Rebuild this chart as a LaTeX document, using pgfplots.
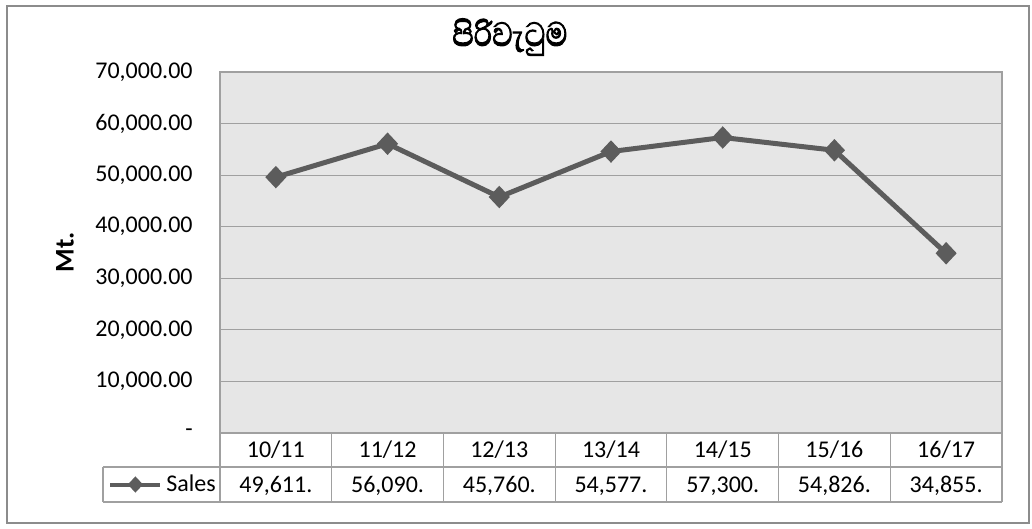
\documentclass[border=0pt]{standalone}
\usepackage{fontspec}
\setmainfont{Carlito}
\newfontfamily\sinhala[Script=Sinhala, FakeBold=2.5]{Abhaya Libre}
\usepackage{pgfplots}
\pgfplotsset{compat=1.18}
\definecolor{linec}{HTML}{5C5C5C}
\definecolor{plotbg}{HTML}{E6E6E6}
\definecolor{gridc}{HTML}{A0A0A0}
\definecolor{framec}{HTML}{8C8C8C}

\begin{document}
\begin{tikzpicture}
\useasboundingbox (-110pt,-48pt) rectangle (406pt,216.5pt);
\draw[framec, line width=0.8pt] (-106.5pt,-45pt) rectangle (404.5pt,213.5pt);

\begin{axis}[
  at={(0,0)}, anchor=south west,
  scale only axis, width=391pt, height=180.5pt,
  xmin=0.5, xmax=7.5, ymin=0, ymax=70000,
  xtick={1,...,7},
  xticklabels={10/11,11/12,12/13,13/14,14/15,15/16,16/17},
  ytick={0,10000,20000,30000,40000,50000,60000,70000},
  yticklabels={{-\hspace{6pt}},{10,000.00},{20,000.00},{30,000.00},{40,000.00},{50,000.00},{60,000.00},{70,000.00}},
  scaled y ticks=false,
  ymajorgrids, major grid style={gridc, line width=0.6pt},
  axis background/.style={fill=plotbg},
  axis line style={gridc, line width=0.6pt},
  tick style={draw=none},
  clip=false,
  tick label style={font=\fontsize{12}{14}\selectfont},
  xticklabel style={anchor=base, inner sep=0pt, yshift=-12.3pt},
  yticklabel style={anchor=east, inner sep=0pt, xshift=-13.5pt},
  legend style={at={(axis description cs:-0.1432,-0.1427)}, anchor=west,
    draw=none, fill=none, inner sep=0pt, font=\fontsize{12}{14}\selectfont},
  legend image code/.code={\draw[mark repeat=2,mark phase=2,#1,line width=2pt,mark size=2.6pt]
    plot coordinates {(0pt,0pt) (12.5pt,0pt) (25pt,0pt)};},
]
\addplot[color=linec, line width=2.5pt, mark=diamond*, mark size=3.8pt,
  mark options={xscale=1.25, solid}] coordinates {
  (1,49611)(2,56090)(3,45760)(4,54577)(5,57300)(6,54826)(7,34855)};
\addlegendentry{Sales}

\begin{scope}[every node/.style={font=\fontsize{12}{14}\selectfont, anchor=base, inner sep=0pt, yshift=-29.6pt}]
\node at (axis cs:1,0) {49,611.};
\node at (axis cs:2,0) {56,090.};
\node at (axis cs:3,0) {45,760.};
\node at (axis cs:4,0) {54,577.};
\node at (axis cs:5,0) {57,300.};
\node at (axis cs:6,0) {54,826.};
\node at (axis cs:7,0) {34,855.};
\end{scope}
\end{axis}

% data table grid
\foreach \k in {0,...,7} {
  \draw[gridc, line width=0.6pt] (\k*55.857pt,0pt) -- (\k*55.857pt,-34.5pt);
}
\draw[gridc, line width=0.6pt] (0pt,-17pt) -- (391pt,-17pt);
\draw[gridc, line width=0.6pt] (-58.5pt,-17pt) -- (0pt,-17pt);
\draw[gridc, line width=0.6pt] (-58.5pt,-34.5pt) -- (391pt,-34.5pt);
\draw[gridc, line width=0.6pt] (-58.5pt,-17pt) -- (-58.5pt,-34.5pt);

% title and axis label
\node[xscale=0.85] at (145pt,198pt) {\sinhala\fontsize{21.5}{25}\selectfont පිරිවැටුම};
\node[rotate=90, font=\bfseries\fontsize{13.5}{15}\selectfont] at (-77.5pt,90.25pt) {Mt.};
\end{tikzpicture}
\end{document}
